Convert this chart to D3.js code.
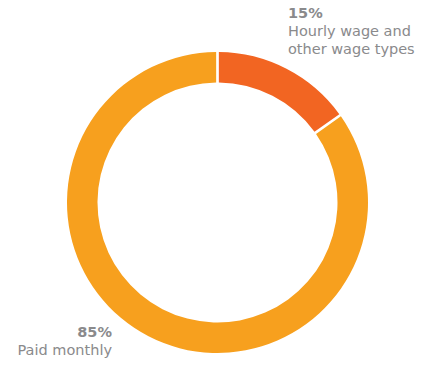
<!DOCTYPE html>
<html>
<head>
<meta charset="utf-8">
<script src="https://cdn.jsdelivr.net/npm/d3@7"></script>
<style>
  body { margin: 0; background: #fff; }
  text { font-family: "DejaVu Sans", "Liberation Sans", sans-serif; fill: #8a8a8c; }
</style>
</head>
<body>
<svg></svg>
<script>
// данные
const categories = ["Hourly wage and other wage types", "Paid monthly"];
const values = [15, 85];
const colors = ["#f26522", "#f7a01e"];

const width = 422;
const height = 365;
let svg = d3.select("svg")
    .attr("width", width)
    .attr("height", height);

const cx = 217.5, cy = 202.5;
const pie = d3.pie().sort(null).value(d => d).padAngle(0.014);
const arc = d3.arc().innerRadius(120).outerRadius(150.5);

let ring = svg.append("g").attr("transform", `translate(${cx}, ${cy})`);
ring.selectAll("path")
    .data(pie(values))
    .enter().append("path")
    .attr("d", arc)
    .style("fill", (d, i) => colors[i]);

// подписи
let labelTop = svg.append("g").attr("transform", "translate(288, 0)");
labelTop.append("text").attr("y", 18).style("font-size", "14.5px").style("font-weight", "bold").text(values[0] + "%");
labelTop.append("text").attr("y", 36).style("font-size", "14.5px").text("Hourly wage and");
labelTop.append("text").attr("y", 54).style("font-size", "14.5px").text("other wage types");

let labelBottom = svg.append("g").attr("transform", "translate(112, 0)").attr("text-anchor", "end");
labelBottom.append("text").attr("y", 337).style("font-size", "14.5px").style("font-weight", "bold").text(values[1] + "%");
labelBottom.append("text").attr("y", 355).style("font-size", "14.5px").text("Paid monthly");
</script>
</body>
</html>
